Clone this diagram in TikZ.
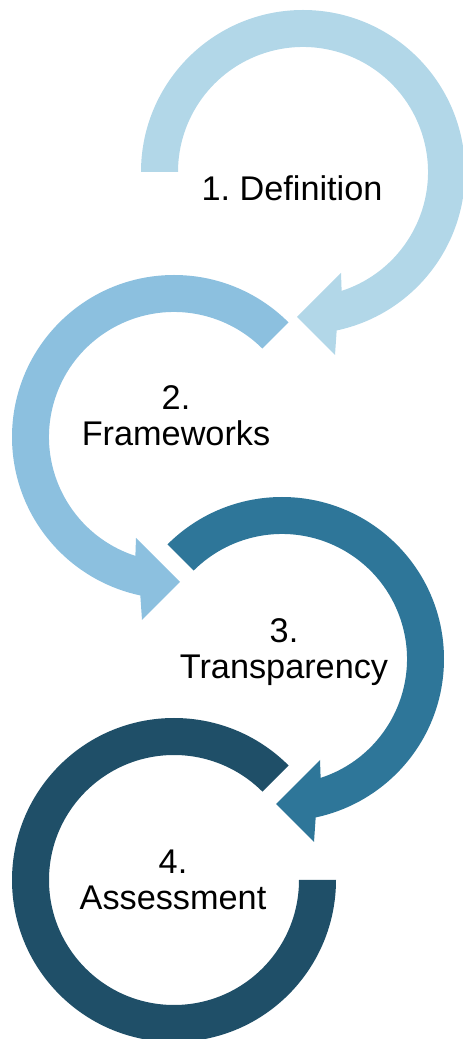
\documentclass[tikz,border=0pt]{standalone}
\usepackage{fontspec}
\setmainfont{Liberation Sans}
\frenchspacing
\definecolor{ringA}{RGB}{178,215,232}
\definecolor{ringB}{RGB}{140,192,223}
\definecolor{ringC}{RGB}{46,118,153}
\definecolor{ringD}{RGB}{31,79,104}
\tikzset{lbl/.style={align=center,inner sep=0pt,font=\fontsize{19.5}{20.5}\selectfont}}
\begin{document}
\begin{tikzpicture}[x=0.02cm,y=0.02cm]
		\useasboundingbox (0,0) rectangle (463,1039);
		\coordinate (c1) at (303,867);
		\coordinate (c2) at (174,602);
		\coordinate (c3) at (282,380);
		\coordinate (c4) at (174,159);
	
		% draw rings
		\fill[ringA,shift={(c1)}] (180:162) arc[start angle=180,end angle=-78,radius=162]
			-- (32,-183) -- (-6,-145) -- (38,-101) -- (-72:125)
			arc[start angle=-72,end angle=180,radius=125] -- cycle;
		\fill[ringB,shift={(c2)}] (45:162) arc[start angle=45,end angle=258,radius=162]
			-- (-32,-183) -- (6,-145) -- (-38,-101) -- (252:125)
			arc[start angle=252,end angle=45,radius=125] -- cycle;
		\fill[ringC,shift={(c3)}] (135:162) arc[start angle=135,end angle=-78,radius=162]
			-- (32,-183) -- (-6,-145) -- (38,-101) -- (-72:125)
			arc[start angle=-72,end angle=135,radius=125] -- cycle;
		\fill[ringD,shift={(c4)}] (45:162) arc[start angle=45,end angle=360,radius=162]
			-- (0:125) arc[start angle=360,end angle=45,radius=125] -- cycle;
	
		% draw labels
		\node[lbl] at (292,851) (def) {1. Definition};
		\node[lbl] at (176,623) (frame) {2.\\Frameworks};
		\node[lbl] at (284,387) (trans) {3.\\Transparency};
		\node[lbl] at (173,159) (assess) {4.\\Assessment};
		\end{tikzpicture}
\end{document}
